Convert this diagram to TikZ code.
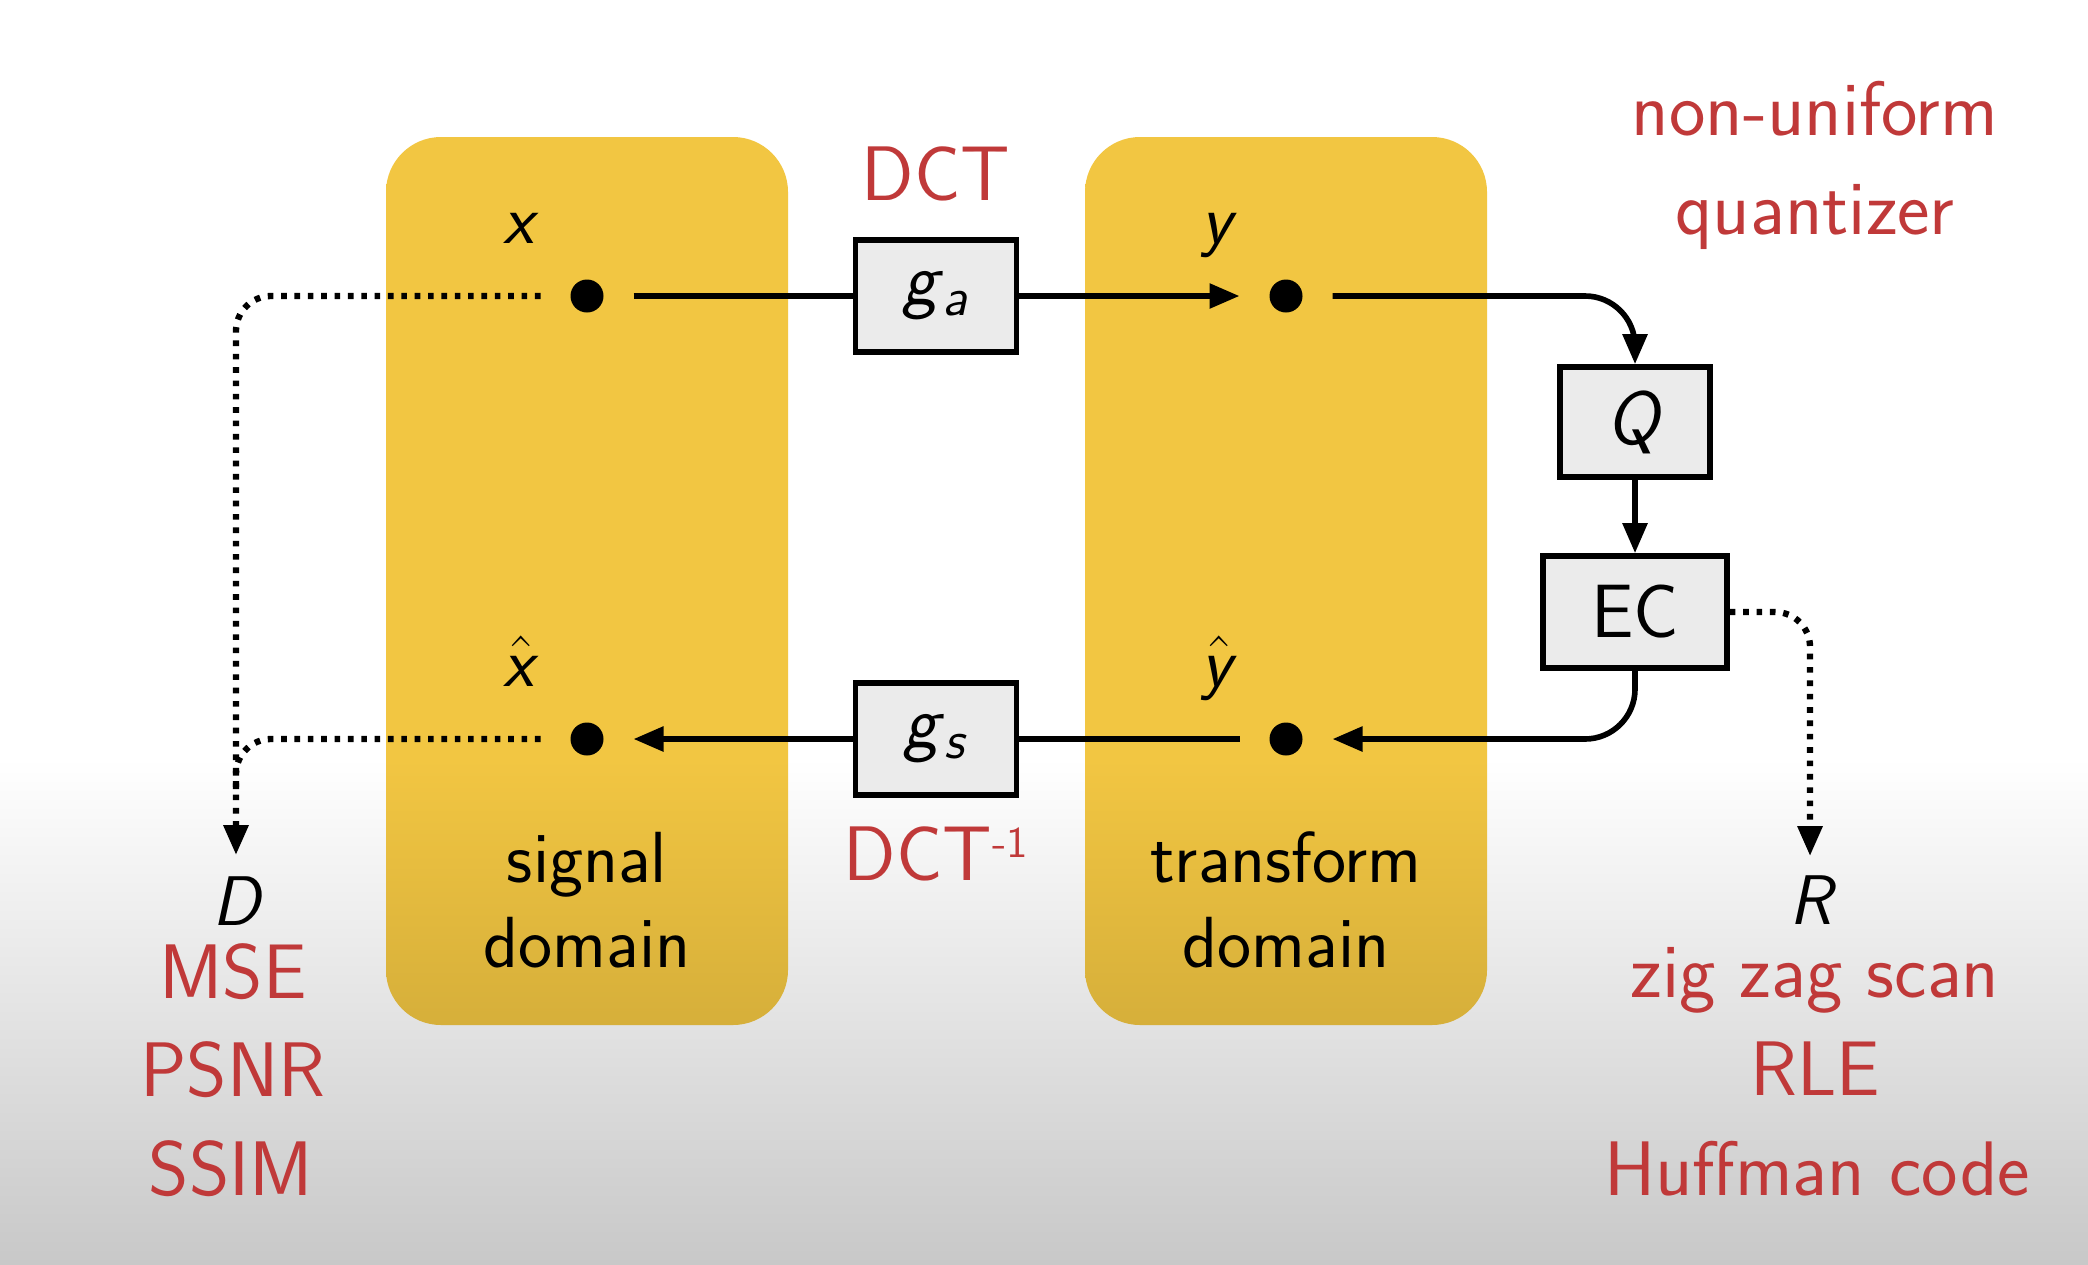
\documentclass[tikz,border=0pt]{standalone}
\usepackage{fontspec}
\usetikzlibrary{arrows.meta}

\definecolor{slideyellow}{RGB}{242,198,66}
\definecolor{slideyellowdark}{RGB}{214,175,58}
\definecolor{slidegray}{RGB}{200,200,200}
\definecolor{slidered}{RGB}{192,57,57}
\definecolor{boxgray}{RGB}{235,235,235}

\pgfdeclareverticalshading{bgfade}{100bp}{color(0bp)=(slidegray); color(25bp)=(slidegray); color(45bp)=(white); color(100bp)=(white)}
\pgfdeclareverticalshading{domainfade}{100bp}{color(0bp)=(slideyellowdark); color(25bp)=(slideyellowdark); color(40bp)=(slideyellow); color(100bp)=(slideyellow)}

\begin{document}
\begin{tikzpicture}[>={Triangle[length=3mm,width=2.4mm]},line width=1.6pt,font=\sffamily\fontsize{20pt}{24pt}\selectfont,
    block/.style={draw, fill=boxgray, inner sep=0pt, font=\sffamily\fontsize{21.5pt}{24pt}\selectfont},
    signal/.style={circle, fill, inner sep=0pt, minimum size=0.33cm, outer sep=0.3cm},
    dotline/.style={line width=1.8pt, dash pattern=on 1.6pt off 2.2pt},
    note/.style={text=slidered, anchor=base, font=\sffamily\fontsize{22pt}{24pt}\selectfont},
    domaintext/.style={anchor=base, font=\sffamily\fontsize{20.6pt}{24pt}\selectfont}]
  \useasboundingbox (0,0) rectangle (20.88,-12.64);
  \shade[shading=bgfade] (0,0) rectangle (20.88,-12.64);
  % the two domains
  \shade[shading=domainfade, rounded corners=0.55cm] (3.86,-1.37) rectangle (7.88,-10.25);
  \shade[shading=domainfade, rounded corners=0.55cm] (10.85,-1.37) rectangle (14.87,-10.25);

  \node[signal] (x)    at (5.87,-2.96) {};
  \node[signal] (xhat) at (5.87,-7.39) {};
  \node[signal] (y)    at (12.86,-2.96) {};
  \node[signal] (yhat) at (12.86,-7.39) {};
  \node[block, minimum width=1.61cm, minimum height=1.12cm] (ga) at (9.36,-2.96) {\textit{g}\textsubscript{\textit{a}}};
  \node[block, minimum width=1.61cm, minimum height=1.12cm] (gs) at (9.36,-7.39) {\textit{g}\textsubscript{\textit{s}}};
  \node[block, minimum width=1.50cm, minimum height=1.10cm] (Q)  at (16.35,-4.22) {\textit{Q}};
  \node[block, minimum width=1.84cm, minimum height=1.12cm] (EC) at (16.35,-6.12) {EC};
  \coordinate (Dend)   at (2.36,-8.55);
  \coordinate (Dmerge) at (2.36,-7.95);
  \coordinate (Rend)   at (18.10,-8.56);

  \draw (x) -- (ga);
  \draw[->] (ga) -- (y);
  \draw[->, rounded corners=0.5cm] (y.east) -| (Q.north);
  \draw[->] (Q) -- (EC);
  \draw[->, rounded corners=0.5cm] (EC.south) |- (yhat.east);
  \draw (yhat) -- (gs);
  \draw[->] (gs) -- (xhat);
  \draw[->, dotline, rounded corners=0.35cm] (x.west) -| (Dend);
  \draw[dotline, rounded corners=0.35cm] (xhat.west) -| (Dmerge);
  \draw[->, dotline, rounded corners=0.35cm] (EC.east) -| (Rend);

  \node[anchor=base] (lx)    at (5.21,-2.43) {\textit{x}};
  \node[anchor=base] (lxhat) at (5.21,-6.86) {$\hat{\hbox{\textit{x}}}$};
  \node[anchor=base] (ly)    at (12.19,-2.43) {\textit{y}};
  \node[anchor=base] (lyhat) at (12.19,-6.86) {$\hat{\hbox{\textit{y}}}$};
  \node[anchor=base] (lD)    at (2.38,-9.25) {\textit{D}};
  \node[anchor=base] (lR)    at (18.13,-9.24) {\textit{R}};

  \node[domaintext] (sig1) at (5.87,-8.82) {signal};
  \node[domaintext] (sig2) at (5.87,-9.67) {domain};
  \node[domaintext] (tra1) at (12.86,-8.82) {transform};
  \node[domaintext] (tra2) at (12.86,-9.67) {domain};

  \node[note] (dct)  at (9.36,-2.00) {DCT};
  \node[note] (idct) at (9.36,-8.80) {DCT\raisebox{6.5pt}{\fontsize{12.5pt}{14pt}\selectfont -1}};
  \node[note] (quan1) at (18.15,-1.35) {non-uniform};
  \node[note] (quan2) at (18.15,-2.34) {quantizer};
  \node[note] (mse)  at (2.33,-9.98) {MSE};
  \node[note] (psnr) at (2.33,-10.96) {PSNR};
  \node[note] (ssim) at (2.31,-11.95) {SSIM};
  \node[note] (zig)  at (18.15,-9.97) {zig zag scan};
  \node[note] (rle)  at (18.15,-10.95) {RLE};
  \node[note] (huff) at (18.17,-11.95) {Huffman code};
\end{tikzpicture}
\end{document}
